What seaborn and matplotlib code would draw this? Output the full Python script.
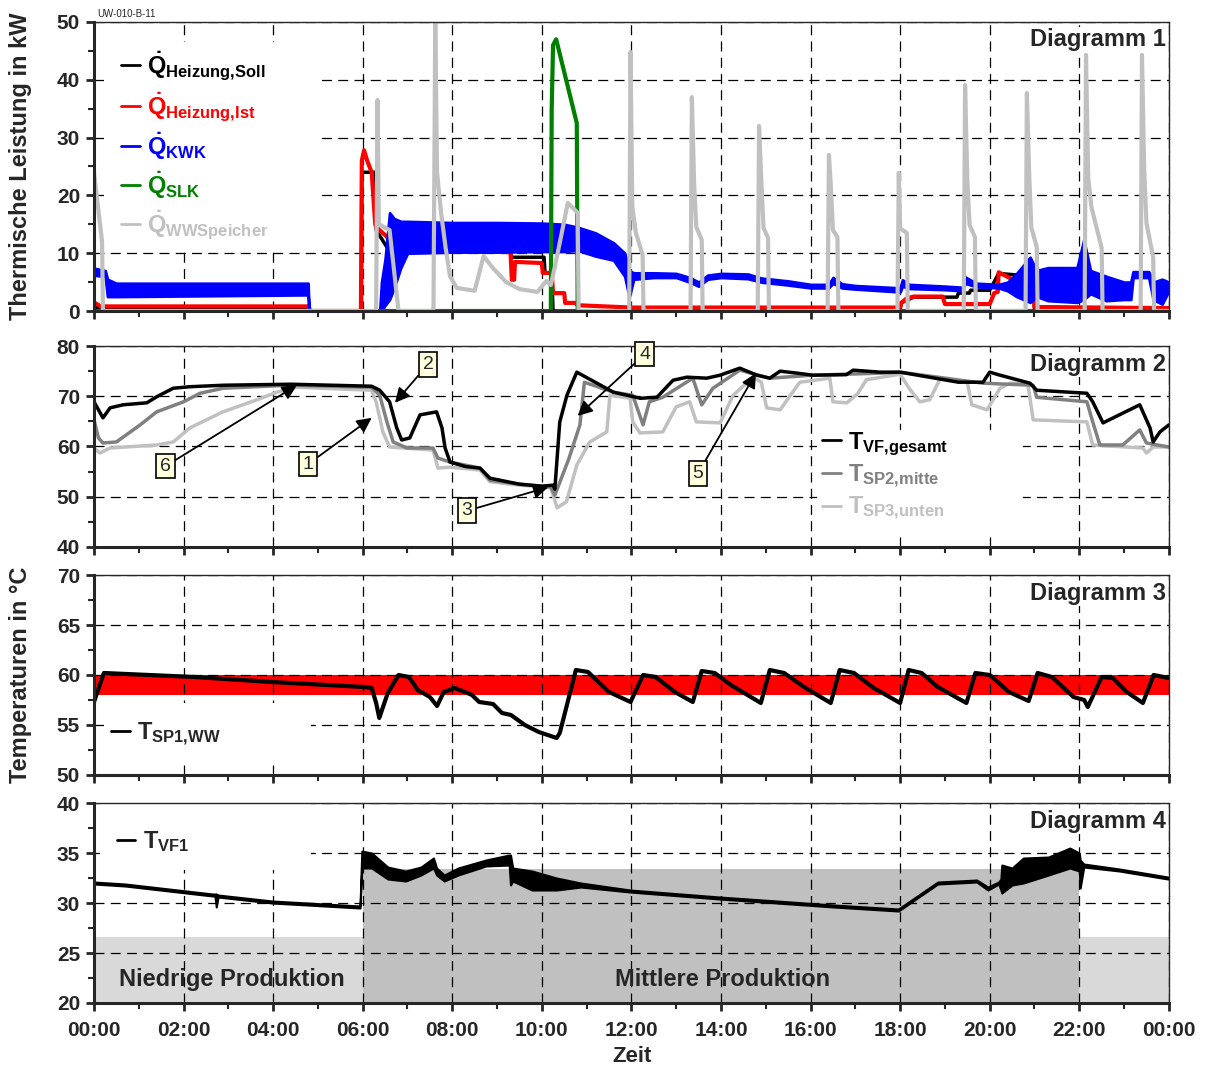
import numpy as np
import seaborn as sns
import matplotlib.pyplot as plt
from matplotlib.lines import Line2D
from matplotlib.patches import Rectangle
from matplotlib.ticker import MultipleLocator, FixedLocator

sns.set_style("ticks")
plt.rcParams['font.family'] = ['Liberation Sans', 'DejaVu Sans']
plt.rcParams['font.weight'] = 'bold'
plt.rcParams['mathtext.fontset'] = 'custom'
plt.rcParams['mathtext.rm'] = 'Liberation Sans:bold'
plt.rcParams['mathtext.it'] = 'Liberation Sans:bold'
plt.rcParams['mathtext.bf'] = 'Liberation Sans:bold'

# ---------------- Diagramm 1: thermische Leistung (kW), Zeit in h ----------------
soll_t = [0, 4.8, 4.82, 5.97, 5.98, 6.27, 6.3, 6.6, 9.3, 9.32, 10.05, 10.07, 10.22,
          10.25, 18.0, 18.02, 18.3, 19.27, 19.3, 19.55, 19.57, 20.0, 20.2, 20.97, 21.0, 24.0]
soll_v = [0.6, 0.6, 0, 0, 24, 24, 14, 10.3, 10.3, 9.3, 9.3, 6.6, 6.6,
          0, 0, 1.4, 2.4, 2.4, 3.1, 3.1, 3.6, 3.6, 6.5, 6.0, 0, 0]

ist_t = [0, 0.15, 4.8, 4.82, 5.96, 5.98, 6.03, 6.1, 6.2, 6.28, 6.3, 6.55, 6.62, 9.3,
         9.33, 9.38, 9.4, 10.0, 10.02, 10.22, 10.25, 10.5, 10.52, 10.75, 10.8, 12.0,
         18.0, 18.02, 18.15, 18.3, 18.95, 19.0, 20.0, 20.1, 20.18, 20.2, 20.5, 20.75,
         20.77, 20.97, 21.0, 24.0]
ist_v = [1.5, 0.8, 0.8, 0, 0, 26, 27.8, 26, 24, 15, 14.5, 12.8, 10.5, 10.2,
         5.4, 5.4, 8.5, 8.3, 6.6, 6.6, 3.1, 3.1, 1.4, 1.4, 1.0, 0.6,
         0.6, 1.4, 2.2, 2.5, 2.5, 1.2, 1.2, 3.1, 3.3, 6.7, 5.5, 5.5,
         6.0, 6.0, 0.7, 0.5]

# KWK oscillates strongly -> stored as lower / upper envelope
kwk_t = [0, 0.25, 0.3, 0.5, 4.75, 4.78, 4.8, 6.38, 6.42, 6.5, 6.6, 6.7, 6.85, 7.0,
         8.0, 9.0, 10.0, 10.5, 10.8, 11.2, 11.6, 11.85, 11.95, 12.05, 12.5, 13.0,
         13.3, 13.5, 13.7, 14.0, 14.6, 14.9, 15.5, 16.0, 16.4, 16.5, 16.7, 17.0,
         18.0, 18.05, 18.2, 19.0, 19.4, 19.45, 19.7, 20.2, 20.4, 20.6, 20.9, 21.05,
         21.3, 21.95, 22.1, 22.25, 22.6, 23.0, 23.15, 23.2, 23.55, 23.65, 23.85, 24.0]
kwk_lo = [6.2, 6.0, 2.5, 2.5, 2.8, 3.0, 0, 0, 0, 1, 2, 4, 7.5, 10,
          10.2, 10.2, 10.3, 10.3, 10.5, 9.5, 8.8, 6.0, 2.4, 5.5, 5.8, 5.8,
          5.0, 4.3, 5.5, 5.8, 5.6, 5.0, 4.5, 4.0, 4.0, 4.8, 4.0, 3.8,
          3.3, 4.3, 3.9, 3.7, 3.5, 4.8, 4.2, 4.0, 3.5, 2.5, 1.5, 2.5,
          1.8, 1.5, 2.0, 3.0, 1.8, 2.0, 2.0, 5.8, 5.8, 2.0, 1.2, 3.5]
kwk_hi = [7.4, 7.0, 5.5, 4.8, 4.8, 4.8, 0, 0, 5, 9, 17, 16, 15.5, 15.5,
          15.3, 15.3, 15.2, 15, 14.5, 13.5, 11.8, 10, 7, 6.6, 6.6, 6.5,
          5.8, 5.0, 6.2, 6.5, 6.4, 5.7, 5.2, 4.6, 4.6, 5.8, 4.7, 4.4,
          4.0, 5.4, 4.6, 4.3, 4.1, 5.9, 4.8, 4.6, 5.0, 6.5, 9.3, 7.0,
          7.5, 7.5, 12.3, 7.0, 6.0, 5.0, 5.0, 6.8, 6.8, 5.0, 5.5, 5.0]

slk_t = [0, 10.2, 10.22, 10.25, 10.32, 10.78, 10.8, 24]
slk_v = [0, 0, 35, 46, 47, 32.5, 0, 0]

ww_t = [0, 0.03, 0.15, 0.18, 0.2, 6.3, 6.33, 6.36, 6.6, 6.8,
        7.58, 7.62, 7.66, 7.75, 7.85, 7.95, 8.1, 8.5, 8.7, 8.9,
        9.2, 9.5, 9.9, 10.1, 10.2, 10.3, 10.58, 10.8, 10.82,
        11.95, 11.98, 12.02, 12.1, 12.25, 12.27,
        13.32, 13.35, 13.4, 13.45, 13.57, 13.59,
        14.82, 14.85, 14.9, 14.95, 15.05, 15.07,
        16.38, 16.41, 16.45, 16.5, 16.6, 16.62,
        17.94, 17.97, 18.0, 18.15, 18.17,
        19.42, 19.45, 19.5, 19.55, 19.67, 19.69,
        20.8, 20.83, 20.88, 20.93, 21.05, 21.07,
        22.12, 22.15, 22.2, 22.27, 22.5, 22.52,
        23.37, 23.4, 23.45, 23.5, 23.65, 23.67, 24]
ww_v = [24, 22, 14, 12, 0, 0, 36.5, 15, 14, 0,
        0, 50, 24, 17, 11, 6, 4, 3.5, 9.5, 7.5,
        5, 3.8, 3.3, 5.2, 4.5, 8, 18.7, 17, 0,
        0, 44.8, 18, 13.5, 9.7, 0,
        0, 37, 22, 14.5, 12.3, 0,
        0, 32, 22.7, 14.4, 12.6, 0,
        0, 27, 22, 14, 12.8, 0,
        0, 23.9, 14.3, 13.5, 0,
        0, 39.1, 22.7, 14.9, 12.8, 0,
        0, 37.7, 23.9, 14.4, 11.1, 0,
        0, 44.3, 23, 18, 10.9, 0,
        0, 44.3, 24.4, 15.2, 9.3, 0, 0]

# ---------------- Diagramm 2: Speichertemperaturen ----------------
vf_t = [0, 0.2, 0.36, 0.65, 1.18, 1.4, 1.77, 2.14, 2.9, 4.4,
        6.2, 6.38, 6.6, 6.76, 6.87, 7.05, 7.28, 7.65, 7.77, 7.84,
        7.95, 8.3, 8.62, 8.84, 9.5, 10.0, 10.25, 10.29, 10.4, 10.56,
        10.78, 11.6, 12.2, 12.57, 12.93, 13.24, 13.68, 13.98, 14.42, 14.8,
        15.09, 15.32, 15.7, 16.05, 16.8, 16.95, 17.55, 18.0, 19.3, 19.85,
        20.0, 20.23, 20.9, 21.05, 22.17, 22.3, 22.53, 23.35, 23.58, 23.65,
        23.8, 24.0]
vf_v = [68.9, 65.7, 67.7, 68.3, 68.7, 69.9, 71.6, 71.9, 72.2, 72.4,
        72.0, 71.2, 68.9, 63.7, 61.3, 61.7, 66.3, 66.9, 63.7, 59.7,
        56.9, 56.0, 55.7, 53.7, 52.5, 52.1, 52.3, 51.5, 64.9, 70.2,
        74.8, 70.8, 69.6, 69.8, 73.2, 73.8, 73.6, 74.2, 75.6, 74.2,
        73.6, 75.0, 74.6, 74.2, 74.3, 75.2, 74.8, 74.8, 72.8, 72.8,
        74.8, 74.2, 72.6, 71.2, 70.6, 68.9, 64.7, 68.3, 63.7, 60.9,
        62.9, 64.3]

sp2_t = [0, 0.1, 0.2, 0.5, 1.03, 1.4, 2.0, 2.37, 2.88, 4.37,
         6.2, 6.38, 6.54, 6.68, 6.99, 7.57, 7.68, 7.95, 8.62, 8.84,
         9.5, 10.0, 10.2, 10.29, 10.6, 10.85, 10.95, 11.6, 12.03, 12.26,
         12.4, 12.7, 13.37, 13.57, 13.82, 14.42, 15.09, 16.05, 17.55, 18.0,
         19.85, 20.97, 21.05, 22.17, 22.3, 22.46, 22.97, 23.35, 23.5, 24.0]
sp2_v = [65.3, 61.7, 60.7, 60.9, 64.3, 66.9, 68.9, 70.6, 71.6, 72.2,
         71.8, 70.2, 64.9, 60.9, 59.7, 59.7, 57.7, 56.9, 55.7, 53.3,
         52.5, 52.1, 51.9, 50.3, 57.5, 64.3, 72.8, 70.8, 70.2, 64.3,
         68.9, 69.8, 73.6, 68.3, 71.6, 75.2, 73.6, 74.2, 74.6, 74.8,
         72.6, 72.2, 69.8, 68.9, 64.9, 60.3, 60.3, 63.3, 60.7, 59.9]

sp3_t = [0, 0.13, 0.36, 1.4, 1.77, 2.14, 2.88, 3.64, 4.08, 4.53,
         6.2, 6.3, 6.45, 6.6, 7.57, 7.68, 7.95, 8.62, 8.84, 9.5,
         10.0, 10.2, 10.34, 10.55, 10.78, 11.07, 11.45, 11.52, 11.97, 12.03,
         12.19, 12.7, 13.0, 13.3, 13.45, 13.98, 14.27, 14.72, 14.9, 15.02,
         15.32, 15.6, 15.76, 16.43, 16.5, 16.81, 17.05, 17.25, 18.0, 18.2,
         18.44, 18.66, 18.9, 19.5, 19.6, 19.94, 20.23, 20.45, 20.85, 20.97,
         22.17, 22.3, 23.42, 23.5, 23.65, 24.0]
sp3_v = [59.7, 58.7, 59.7, 60.3, 60.9, 63.7, 66.9, 69.3, 70.8, 71.8,
         71.2, 68.9, 62.9, 59.9, 59.3, 55.7, 55.9, 55.3, 53.0, 52.3,
         52.0, 51.8, 47.8, 49.0, 56.3, 60.9, 62.9, 70.2, 69.6, 64.9,
         62.7, 62.9, 67.9, 68.9, 64.9, 64.7, 70.2, 73.8, 72.8, 67.7,
         67.3, 70.8, 72.8, 73.6, 68.9, 68.7, 70.5, 73.3, 74.4, 71.6,
         68.9, 69.3, 73.6, 72.8, 68.3, 67.3, 71.6, 72.6, 72.6, 65.3,
         64.9, 60.3, 59.7, 58.7, 59.9, 59.9]

# numbered markers: label, box position (h, degC), arrow tip (h, degC)
mark_labels = ['1', '2', '3', '4', '5', '6']
mark_box = [(4.78, 56.5), (7.46, 76.4), (8.33, 47.2), (12.3, 78.4), (13.49, 54.7), (1.6, 56.1)]
mark_tip = [(6.2, 65.7), (6.72, 68.7), (10.14, 51.9), (10.8, 66.1), (14.78, 74.6), (4.53, 72.2)]

# ---------------- Diagramm 3: Warmwasserspeicher ----------------
ww_band = (58, 60)
sp1_t = [0, 0.22, 2.25, 3.97, 6.02, 6.2, 6.3, 6.37, 6.56, 6.8,
         7.03, 7.23, 7.5, 7.66, 7.81, 8.06, 8.44, 8.6, 8.91, 9.11,
         9.31, 9.62, 9.93, 10.33, 10.4, 10.76, 11.03, 11.5, 11.98, 12.26,
         12.54, 12.97, 13.37, 13.57, 13.86, 14.22, 14.89, 15.09, 15.41, 15.89,
         16.45, 16.65, 16.97, 17.41, 18.0, 18.19, 18.48, 18.84, 19.48, 19.68,
         20.0, 20.43, 20.87, 21.07, 21.39, 21.87, 22.11, 22.19, 22.5, 22.75,
         23.06, 23.42, 23.66, 24.0]
sp1_v = [57.3, 60.2, 59.8, 59.3, 58.8, 58.7, 57.2, 55.7, 58.2, 60.0,
         59.8, 58.5, 57.8, 56.9, 58.3, 58.7, 58.0, 57.3, 57.1, 56.2,
         56.0, 55.0, 54.3, 53.7, 54.2, 60.5, 60.3, 58.3, 57.3, 60.0,
         59.8, 58.3, 57.3, 60.4, 60.2, 59.0, 57.2, 60.5, 60.2, 58.7,
         57.2, 60.5, 60.2, 58.7, 57.2, 60.5, 60.2, 58.8, 57.2, 60.2,
         60.0, 58.3, 57.4, 60.2, 59.8, 57.8, 57.5, 56.8, 59.8, 59.7,
         58.3, 57.2, 60.0, 59.7]

# ---------------- Diagramm 4: Vorlauf VF1 + Produktionsphasen ----------------
prod_start = [0, 6, 22]
prod_end = [6, 22, 24]
prod_level = [26.6, 33.4, 26.6]
prod_color = ['#d9d9d9', '#c0c0c0', '#d9d9d9']

vf1_t = [0, 0.7, 1.87, 2.65, 2.7, 2.73, 2.77, 3.98, 4.77, 5.94,
         5.98, 6.2, 6.56, 6.96, 7.3, 7.58, 7.65, 7.82, 8.13, 8.75,
         9.27, 9.3, 9.35, 9.78, 10.33, 10.87, 11.97, 13.97, 14.93, 16.52,
         17.96, 18.84, 19.71, 19.96, 20.2, 20.25, 20.27, 20.5, 20.75, 21.31,
         21.79, 22.0, 22.02, 22.1, 22.9, 23.98]
vf1_lo = [31.9, 31.7, 31.1, 30.7, 30.7, 29.6, 30.6, 30.0, 29.8, 29.5,
          33.5, 33.5, 32.4, 32.2, 32.8, 33.5, 32.8, 32.2, 32.8, 33.7,
          33.8, 31.8, 32.2, 31.3, 31.3, 31.6, 31.1, 30.4, 30.1, 29.6,
          29.2, 31.9, 32.1, 31.3, 31.9, 31.3, 31.0, 31.8, 32.0, 32.8,
          33.5, 33.2, 31.5, 33.6, 33.2, 32.4]
vf1_hi = [32.1, 31.9, 31.3, 30.9, 30.9, 30.9, 30.8, 30.2, 30.0, 29.7,
          35.2, 35.0, 33.6, 33.2, 33.6, 34.5, 33.5, 32.8, 33.5, 34.3,
          34.8, 34.8, 33.5, 33.2, 32.5, 32.0, 31.3, 30.6, 30.3, 29.8,
          29.4, 32.1, 32.3, 31.6, 32.1, 32.4, 33.8, 33.5, 34.5, 34.6,
          35.5, 35.0, 34.3, 33.9, 33.4, 32.6]

hour_ticks = list(range(0, 25, 2))
hour_labels = ['%02d:00' % (h % 24) for h in hour_ticks]

# white legend backgrounds (axes fractions: x, y, w, h) that hide the grid
legend_bg = [(0.009, 0.211, 0.202, 0.72), (0.673, 0.06, 0.191, 0.522),
             (0.009, 0.075, 0.193, 0.285), (0.006, 0.665, 0.196, 0.33)]


def line(ax, t, v, color, lw):
    sns.lineplot(x=t, y=v, ax=ax, color=color, lw=lw, estimator=None,
                 sort=False, legend=False, zorder=3)


def sym(base, sub, dot=False):
    b = r'\dot{\mathrm{%s}}' % base if dot else r'\mathrm{%s}' % base
    return r'$%s{}_{\mathrm{%s}}$' % (b, sub.replace(',', '{,}'))


fig = plt.figure(figsize=(12.05, 10.71), dpi=100)
boxes = [(0.7096, 0.2699), (0.4893, 0.1876), (0.2764, 0.1867), (0.0635, 0.1867)]
axes = [fig.add_axes([0.078, b, 0.892, h]) for b, h in boxes]
ax1, ax2, ax3, ax4 = axes
leg_kw = dict(loc='upper left', frameon=False, fontsize=17, handlelength=0.8,
              handletextpad=0.3, borderpad=0)

for ax, (x0, y0, w, h) in zip(axes, legend_bg):
    ax.add_patch(Rectangle((x0, y0), w, h, transform=ax.transAxes, fc='white',
                           ec='none', zorder=2.7))

# Diagramm 1
line(ax1, soll_t, soll_v, 'black', 2.5)
line(ax1, ist_t, ist_v, 'red', 3)
ax1.fill_between(kwk_t, kwk_lo, kwk_hi, color='blue', lw=2, zorder=3)
line(ax1, slk_t, slk_v, 'green', 3)
line(ax1, ww_t, ww_v, '#c0c0c0', 3)

q_cols = ['black', 'red', 'blue', 'green', '#c0c0c0']
q_labels = [sym('Q', 'Heizung,Soll', True), sym('Q', 'Heizung,Ist', True),
            sym('Q', 'KWK', True), sym('Q', 'SLK', True), sym('Q', 'WWSpeicher', True)]
ax1.legend([Line2D([], [], color=c, lw=2) for c in q_cols], q_labels,
           bbox_to_anchor=(0.014, 0.945), labelspacing=0.33, labelcolor=q_cols, **leg_kw)

# Diagramm 2
t_cols = ['black', '#808080', '#c0c0c0']
line(ax2, sp3_t, sp3_v, t_cols[2], 2.5)
line(ax2, sp2_t, sp2_v, t_cols[1], 2.5)
line(ax2, vf_t, vf_v, t_cols[0], 2.5)
ax2.legend([Line2D([], [], color=c, lw=2) for c in t_cols],
           [sym('T', 'VF,gesamt'), sym('T', 'SP2,mitte'), sym('T', 'SP3,unten')],
           bbox_to_anchor=(0.666, 0.64), labelspacing=0.22, labelcolor=t_cols, **leg_kw)
for lab, box, tip in zip(mark_labels, mark_box, mark_tip):
    ax2.annotate(lab, xy=tip, xytext=box, fontsize=14, weight='normal', ha='center',
                 va='center', zorder=5,
                 bbox=dict(boxstyle='square,pad=0.2', fc='#ffffdd', ec='black', lw=1.2),
                 arrowprops=dict(arrowstyle='-|>', color='black', lw=1.3,
                                 mutation_scale=22, shrinkA=0, shrinkB=0))

# Diagramm 3
ax3.fill_between([0, 24], ww_band[0], ww_band[1], color='red', lw=0, zorder=1)
line(ax3, sp1_t, sp1_v, 'black', 3)
ax3.legend([Line2D([], [], color='black', lw=2)], [sym('T', 'SP1,WW')],
           bbox_to_anchor=(0.005, 0.33), **leg_kw)

# Diagramm 4
for s, e, lv, c in zip(prod_start, prod_end, prod_level, prod_color):
    ax4.fill_between([s, e], 20, lv, color=c, lw=0, zorder=1)
ax4.fill_between(vf1_t, vf1_lo, vf1_hi, color='black', lw=1.5, zorder=3)
ax4.text(3.08, 22.3, 'Niedrige Produktion', fontsize=17, ha='center', va='center', zorder=4)
ax4.text(14.04, 22.3, 'Mittlere Produktion', fontsize=17, ha='center', va='center', zorder=4)
ax4.legend([Line2D([], [], color='black', lw=2)], [sym('T', 'VF1')],
           bbox_to_anchor=(0.01, 0.93), **leg_kw)

limits = [(0, 50, 10, 5), (40, 80, 10, 5), (50, 70, 5, 2.5), (20, 40, 5, 2.5)]
for i, (ax, (lo, hi, maj, mnr)) in enumerate(zip(axes, limits)):
    ax.set_xlim(0, 24)
    ax.set_ylim(lo, hi)
    ax.xaxis.set_major_locator(FixedLocator(hour_ticks))
    ax.xaxis.set_minor_locator(MultipleLocator(1))
    ax.yaxis.set_major_locator(MultipleLocator(maj))
    ax.yaxis.set_minor_locator(MultipleLocator(mnr))
    ax.set_axisbelow(False)
    ax.grid(which='major', ls=(0, (8, 5)), color='black', lw=0.9, zorder=2.5)
    ax.tick_params(which='major', direction='out', length=6, width=2, labelsize=15, pad=4)
    ax.tick_params(which='minor', direction='out', length=4, width=1.5)
    ax.tick_params(axis='x', which='major', pad=7)
    for s in ['left', 'bottom']:
        ax.spines[s].set_linewidth(2.2)
    for s in ['top', 'right']:
        ax.spines[s].set_visible(True)
        ax.spines[s].set_linewidth(1)
    for s in ax.spines.values():
        s.set_zorder(4)
    ax.set_xlabel('')
    ax.set_ylabel('')
    ax.text(0.997, 0.978 if i == 0 else 0.965, 'Diagramm %d' % (i + 1),
            transform=ax.transAxes, ha='right', va='top', fontsize=17, zorder=6,
            bbox=dict(fc='white', ec='none', pad=1))
    if i < 3:
        ax.tick_params(labelbottom=False)
    else:
        ax.set_xticklabels(hour_labels)

fig.text(0.0166, 0.845, 'Thermische Leistung in kW', rotation=90, ha='center', va='center',
         fontsize=17)
fig.text(0.0166, 0.3697, 'Temperaturen in °C', rotation=90, ha='center', va='center',
         fontsize=17)
fig.text(0.5245, 0.004, 'Zeit', ha='center', va='bottom', fontsize=16)
fig.text(97 / 1205, 1 - 14 / 1071, 'UW-010-B-11', fontsize=7, weight='normal', va='center')

fig.savefig('out.png', dpi=100)
